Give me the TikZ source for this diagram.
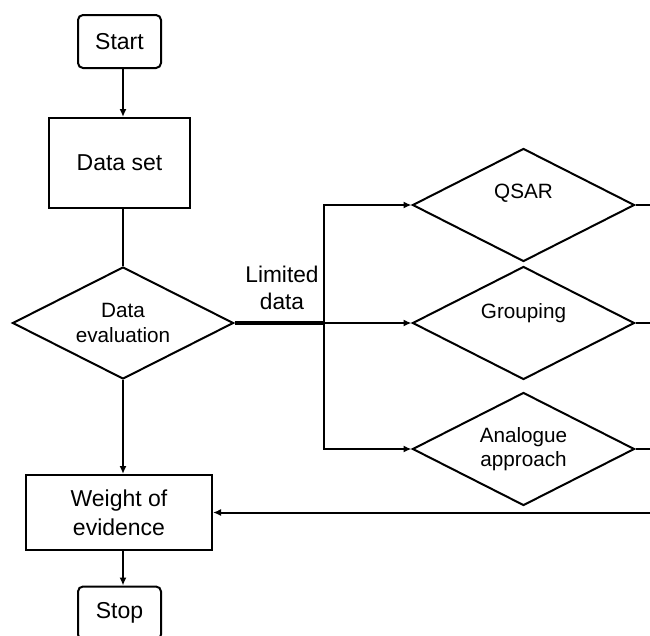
\documentclass[tikz,border=0pt]{standalone}
\usepackage{fontspec}
\setmainfont{Liberation Sans}
\usetikzlibrary{shapes.geometric,arrows.meta}
\newcommand{\boxfont}{\fontsize{23}{29}\selectfont}
\newcommand{\dmdfont}{\fontsize{20.7}{24.5}\selectfont}
\newcommand{\lblfont}{\fontsize{22.7}{27.7}\selectfont}
\tikzset{
  base/.style={draw=black, line width=2pt, inner sep=0pt, align=center},
  termbox/.style={base, rectangle, rounded corners=5pt, font=\boxfont},
  procbox/.style={base, rectangle, font=\boxfont},
  dmd/.style={base, diamond, aspect=1.96, minimum width=222pt, minimum height=113pt, font=\dmdfont},
  conn/.style={line width=2pt},
  arr/.style={conn, -{Latex[length=8pt,width=7pt]}},
}
\begin{document}
\begin{tikzpicture}[x=1pt,y=-1pt]
\useasboundingbox (0,0) rectangle (650,635);
\clip (0,0) rectangle (650,635);
% nodes
\node[termbox, minimum width=83pt, minimum height=53pt] (start) at (119.5,41.5) {Start};
\node[procbox, minimum width=141pt, minimum height=90pt] (dset) at (119.5,163) {Data set};
\node[dmd, minimum width=221pt, minimum height=112pt] (deval) at (123,323) {Data\\evaluation};
\node[procbox, minimum width=186pt, minimum height=75pt] (woe) at (119,512.5) {Weight of\\evidence};
\node[termbox, minimum width=83pt, minimum height=53pt] (stop) at (119.5,613) {Stop};
\node[dmd, label={[font=\dmdfont, yshift=12pt]center:QSAR}] (qsar) at (523.5,205) {};
\node[dmd, label={[font=\dmdfont, yshift=10pt]center:Grouping}] (grp) at (523.5,323) {};
\node[dmd] (ana) at (523.5,449) {Analogue\\approach};
\node[font=\lblfont, align=center, inner sep=0pt] (lim) at (282,288) {Limited\\data};
\coordinate (br) at (324,323);
\coordinate (edge) at (660,0);
% connectors
\draw[arr] (start.south -| deval.north) -- (deval.north |- dset.north);
\draw[conn] (dset.south -| deval.north) -- (deval.north);
\draw[arr] (deval.south) -- (deval.south |- woe.north);
\draw[arr] (deval.south |- woe.south) -- (deval.south |- stop.north);
\draw[line width=3.5pt] (deval.east) -- (br);
\draw[arr] (br) |- (qsar.west);
\draw[arr] (br) -- (grp.west);
\draw[arr] (br) |- (ana.west);
\draw[conn] (qsar.east) -- (qsar.east -| edge);
\draw[conn] (grp.east) -- (grp.east -| edge);
\draw[conn] (ana.east) -- (ana.east -| edge);
\draw[arr] (woe.east -| edge) -- (woe.east);
\end{tikzpicture}
\end{document}
